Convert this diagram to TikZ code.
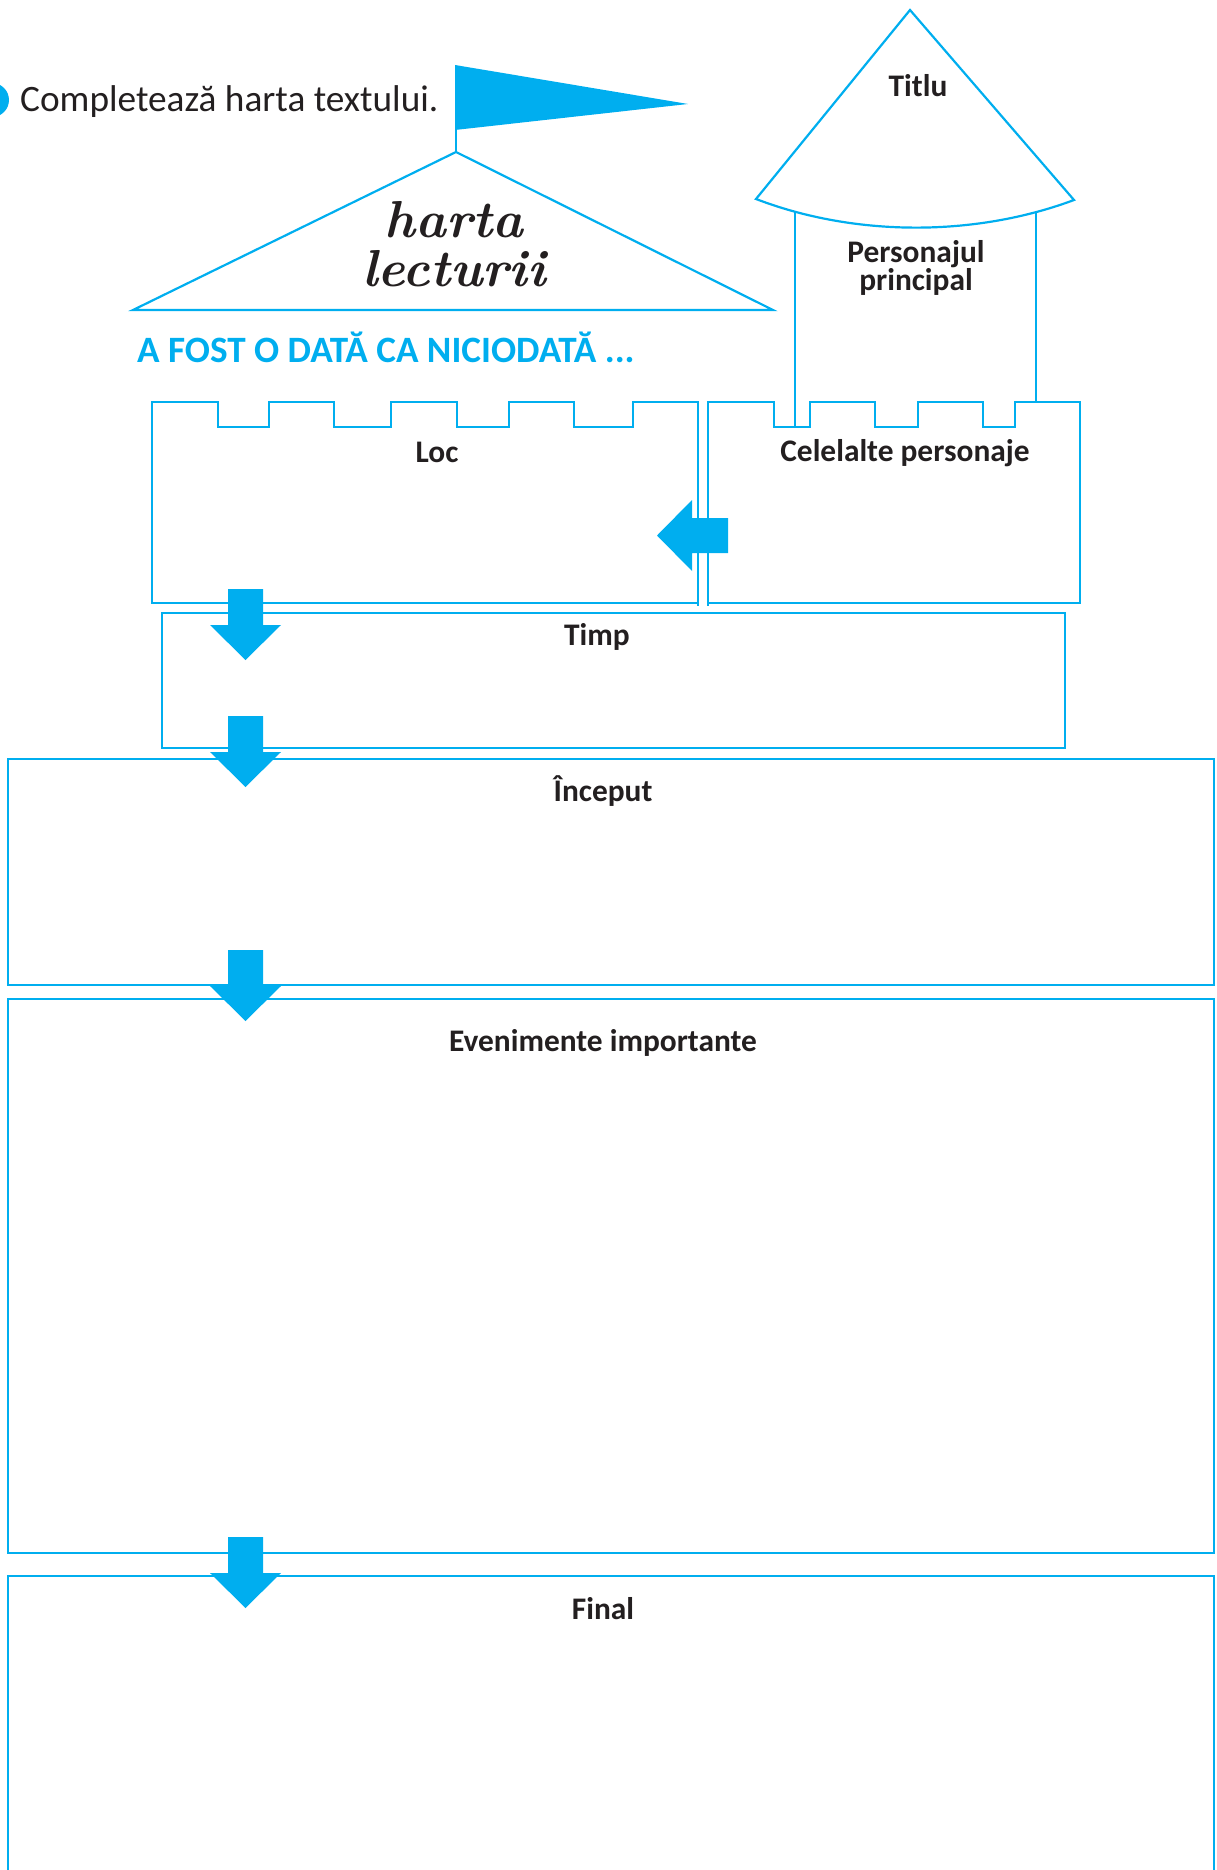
\documentclass[tikz,border=0pt]{standalone}
\usepackage{fontspec}
\newfontfamily\carlito{Carlito}
\usepackage{xcolor}
\usepackage{tikz}
\usetikzlibrary{calc, positioning}
\definecolor{mapblue}{RGB}{0,174,239}
\definecolor{inkdark}{RGB}{35,31,32}
\tikzset{
    outline/.style = {draw=mapblue, line width=2.2pt, line join=miter},
    boxnode/.style = {draw=mapblue, line width=2.2pt, rectangle, inner sep=0pt, fill=none},
    headnode/.style = {draw=none, inner sep=0pt, anchor=base, text=inkdark,
      font=\carlito\bfseries\fontsize{31.4}{27}\selectfont},
    tasknode/.style = {draw=none, inner sep=0pt, anchor=base west, text=inkdark,
      font=\carlito\fontsize{37.3}{40}\selectfont},
    bluetextnode/.style = {draw=none, inner sep=0pt, anchor=base west, text=mapblue,
      font=\carlito\bfseries\fontsize{37.2}{40}\selectfont},
    handnode/.style = {draw=none, inner sep=0pt, anchor=base, text=inkdark,
      font=\bfseries\itshape\fontsize{52}{49}\selectfont},
    pics/blockarrow/.style = {code={
      \fill[mapblue] (-17.5,0) -- (17.5,0) -- (17.5,36) -- (35.5,36) -- (0,71)
        -- (-35.5,36) -- (-17.5,36) -- cycle;}}
}

\begin{document}
\begin{tikzpicture}[x=1pt, y=-1pt]
    \useasboundingbox (0,0) rectangle (1217,1870);

    % task line and flag
    \fill[mapblue] (-8,100) circle (17pt);
    \node [tasknode] (task) at (20,112) {Completează harta textului.};
    \fill[mapblue] (455,65) -- (688,104) -- (455,130) -- cycle;
    \draw[outline] (456,130) -- (456,152);

    % big roof
    \draw[outline] (456,152) -- (133,310) -- (773,310) -- cycle;
    \node [handnode] (harta) at (454,238) {harta};
    \node [handnode] (lecturii) at ([yshift=-49pt]harta.base) {lecturii};
    \node [bluetextnode] (onceupon) at (137,362) {A FOST O DATĂ CA NICIODATĂ ...};

    % tower
    \draw[outline] (910,10) -- (756,199) .. controls (855,237) and (975,237) .. (1074,200) -- cycle;
    \draw[outline] (795,212) -- (795,427);
    \draw[outline] (1036,212) -- (1036,402);
    \node [headnode] (titlu) at (918,97) {Titlu};
    \node [headnode] (personaj) at (916,262) {Personajul};
    \node [headnode] (principal) at ([yshift=-28.5pt]personaj.base) {principal};

    % walls with merlons
    \draw[outline] (152,603) -- (152,402)
      \foreach \a/\b in {218/269, 334/391, 457/509, 574/633}{
        -- (\a,402) -- (\a,427) -- (\b,427) -- (\b,402)}
      -- (698,402) -- (698,603) -- cycle;
    \draw[outline] (708,603) -- (708,402)
      \foreach \a/\b in {774/810, 875/918, 983/1015}{
        -- (\a,402) -- (\a,427) -- (\b,427) -- (\b,402)}
      -- (1080,402) -- (1080,603) -- cycle;
    \draw[outline] (698,603) -- (698,606) (708,603) -- (708,606);
    \node [headnode] (loc) at (437,462) {Loc};
    \node [headnode] (others) at (905,461) {Celelalte personaje};

    % boxes
    \node [boxnode, minimum width=903pt, minimum height=135pt] (timpbox) at (613.5,680.5) {};
    \node [headnode] (timp) at ([xshift=-16.5pt, yshift=-34pt]timpbox.north) {Timp};
    \node [boxnode, minimum width=1206pt, minimum height=226pt] (inceputbox) at (611,872) {};
    \node [headnode] (inceput) at ([xshift=-8pt, yshift=-44pt]inceputbox.north) {Început};
    \node [boxnode, minimum width=1206pt, minimum height=554pt] (evenbox) at (611,1276) {};
    \node [headnode] (even) at ([xshift=-8pt, yshift=-54pt]evenbox.north) {Evenimente importante};
    \node [boxnode, minimum width=1206pt, minimum height=314pt] (finalbox) at (611,1733) {};
    \node [headnode] (final) at ([xshift=-8pt, yshift=-45pt]finalbox.north) {Final};

    % arrows
    \pic[rotate=-90] at (728,535.5) {blockarrow};
    \pic at (245.5,589) {blockarrow};
    \pic at (245.5,716) {blockarrow};
    \pic at (245.5,950) {blockarrow};
    \pic at (245.5,1537) {blockarrow};
\end{tikzpicture}
\end{document}
